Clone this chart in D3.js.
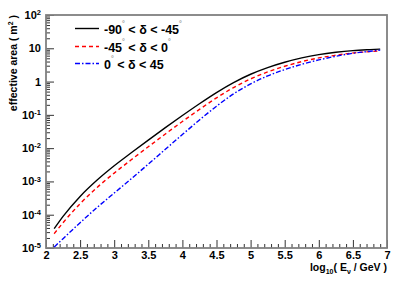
<!DOCTYPE html>
<html>
<head>
<meta charset="utf-8">
<script src="https://cdn.jsdelivr.net/npm/d3@7"></script>
<style>
  body { margin: 0; background: #fff; }
  svg { display: block; font-family: "Liberation Sans", Arial, sans-serif; font-weight: bold; }
</style>
</head>
<body>
<svg></svg>
<script>
// log10(E / GeV) sample points
const logE = [2.12, 2.25, 2.5, 2.75, 3.0, 3.25, 3.5, 3.75, 4.0, 4.25, 4.5, 4.75,
              5.0, 5.25, 5.5, 5.75, 6.0, 6.25, 6.5, 6.75, 6.9];

// effective area (m^2) for each declination band
const areaSouth = [3.80e-5, 8.91e-5, 3.55e-4, 1.10e-3, 2.95e-3, 7.24e-3, 0.0174, 0.0412, 0.0955, 0.216, 0.468, 0.933,
                   1.66, 2.63, 3.80, 5.13, 6.46, 7.59, 8.51, 9.12, 9.44];
const areaMid   = [2.69e-5, 5.75e-5, 2.14e-4, 6.61e-4, 1.78e-3, 4.47e-3, 0.0110, 0.0266, 0.0631, 0.146, 0.324, 0.661,
                   1.20, 1.95, 2.88, 3.98, 5.13, 6.17, 7.24, 7.94, 8.41];
const areaNorth = [1.07e-5, 1.91e-5, 5.75e-5, 1.66e-4, 4.47e-4, 1.20e-3, 3.31e-3, 9.23e-3, 0.0257, 0.070, 0.182, 0.427,
                   0.851, 1.48, 2.29, 3.31, 4.47, 5.75, 7.08, 8.13, 8.81];

const xMajor = [2, 2.5, 3, 3.5, 4, 4.5, 5, 5.5, 6, 6.5, 7];
const xLabels = ["2", "2.5", "3", "3.5", "4", "4.5", "5", "5.5", "6", "6.5", "7"];
const yDecades = [1e-5, 1e-4, 1e-3, 1e-2, 1e-1, 1, 10, 100];
const yBase = ["10", "10", "10", "10", "10", "1", "10", "10"];
const yExp  = ["-5", "-4", "-3", "-2", "-1", "", "", "2"];

const legendLabels = [
  ["-90", "°", " < δ < -45", "°"],
  ["-45", "°", " < δ < 0", "°"],
  ["0", "°", " < δ < 45", ""]
];

const width = 415, height = 282;
const margin = { top: 15, right: 28, bottom: 34, left: 46 };
const plotW = width - margin.left - margin.right;
const plotH = height - margin.top - margin.bottom;

const svg = d3.select("svg").attr("width", width).attr("height", height);
const g = svg.append("g").attr("transform", `translate(${margin.left},${margin.top})`);

const x = d3.scaleLinear().domain([2, 7]).range([0, plotW]);
const y = d3.scaleLog().domain([1e-5, 100]).range([plotH, 0]);

// minor ticks
const xMinor = d3.range(20, 71).map(d => d / 10).filter(d => !xMajor.includes(d));
const yMinor = [];
yDecades.slice(0, -1).forEach(d => { for (let k = 2; k <= 9; k++) yMinor.push(d * k); });

g.append("g")
  .attr("transform", `translate(0,${plotH})`)
  .call(d3.axisBottom(x).tickValues(xMinor).tickSize(-4).tickFormat(""))
  .call(a => a.select(".domain").remove());
g.append("g")
  .call(d3.axisLeft(y).tickValues(yMinor).tickSize(-4).tickFormat(""))
  .call(a => a.select(".domain").remove());

const xAxis = g.append("g")
  .attr("transform", `translate(0,${plotH})`)
  .call(d3.axisBottom(x).tickValues(xMajor).tickSize(-8).tickPadding(3)
    .tickFormat((d, i) => xLabels[i]));
xAxis.select(".domain").remove();
xAxis.selectAll("text").style("font-size", "11px").style("font-family", "Liberation Sans, Arial, sans-serif").attr("font-weight", "bold");

const yAxis = g.append("g")
  .call(d3.axisLeft(y).tickValues(yDecades).tickSize(-8).tickPadding(5).tickFormat(""));
yAxis.select(".domain").remove();
yAxis.selectAll(".tick").each(function(d, i) {
  const t = d3.select(this).select("text")
    .attr("dy", "0.32em")
    .style("font-size", "11px")
    .style("font-family", "Liberation Sans, Arial, sans-serif")
    .attr("font-weight", "bold");
  t.append("tspan").text(yBase[i]);
  if (yExp[i]) t.append("tspan").attr("dy", "-0.5em").style("font-size", "7.5px").text(yExp[i]);
});
g.selectAll(".tick line").attr("stroke", "#333");

// frame
g.append("rect")
  .attr("width", plotW).attr("height", plotH)
  .attr("fill", "none").attr("stroke", "#808080").attr("stroke-width", 1.8);

// curves
const series = [
  { values: areaSouth, color: "#000000", dash: null },
  { values: areaMid, color: "#ff0000", dash: "4,3" },
  { values: areaNorth, color: "#0000ff", dash: "5,2,1.5,2" }
];
const line = d3.line()
  .x(d => x(d[0]))
  .y(d => y(d[1]))
  .curve(d3.curveMonotoneX);

series.forEach(s => {
  g.append("path")
    .datum(logE.map((e, i) => [e, s.values[i]]))
    .attr("fill", "none")
    .attr("stroke", s.color)
    .attr("stroke-width", 1.4)
    .attr("stroke-dasharray", s.dash)
    .attr("d", line);
});

// legend
const legend = svg.append("g");
const rowY = [28.5, 46.5, 63.5];
series.forEach((s, i) => {
  legend.append("line")
    .attr("x1", 75).attr("x2", 99)
    .attr("y1", rowY[i]).attr("y2", rowY[i])
    .attr("stroke", s.color).attr("stroke-width", 1.4)
    .attr("stroke-dasharray", s.dash);
  const t = legend.append("text")
    .attr("x", 104).attr("y", rowY[i] + 5)
    .style("font-size", "12.5px");
  const parts = legendLabels[i];
  t.append("tspan").text(parts[0]);
  t.append("tspan").attr("dy", -8).style("font-size", "7px").attr("fill", "#999").text(parts[1]);
  t.append("tspan").attr("dy", 8).text(parts[2]);
  if (parts[3]) t.append("tspan").attr("dy", -8).style("font-size", "7px").attr("fill", "#999").text(parts[3]);
});

// axis titles
const xt = svg.append("text")
  .attr("x", margin.left + plotW).attr("y", 271)
  .attr("text-anchor", "end")
  .style("font-size", "10.5px");
xt.append("tspan").text("log");
xt.append("tspan").attr("dy", 3).style("font-size", "7px").text("10");
xt.append("tspan").attr("dy", -3).text("( E");
xt.append("tspan").attr("dy", 3).style("font-size", "7px").text("ν");
xt.append("tspan").attr("dy", -3).text(" / GeV )");

const yt = svg.append("text")
  .attr("transform", `translate(17,${margin.top}) rotate(-90)`)
  .attr("text-anchor", "end")
  .style("font-size", "10.5px");
yt.append("tspan").text("effective area ( m");
yt.append("tspan").attr("dy", -4).style("font-size", "7px").text("2");
yt.append("tspan").attr("dy", 4).text(" )");
</script>
</body>
</html>
